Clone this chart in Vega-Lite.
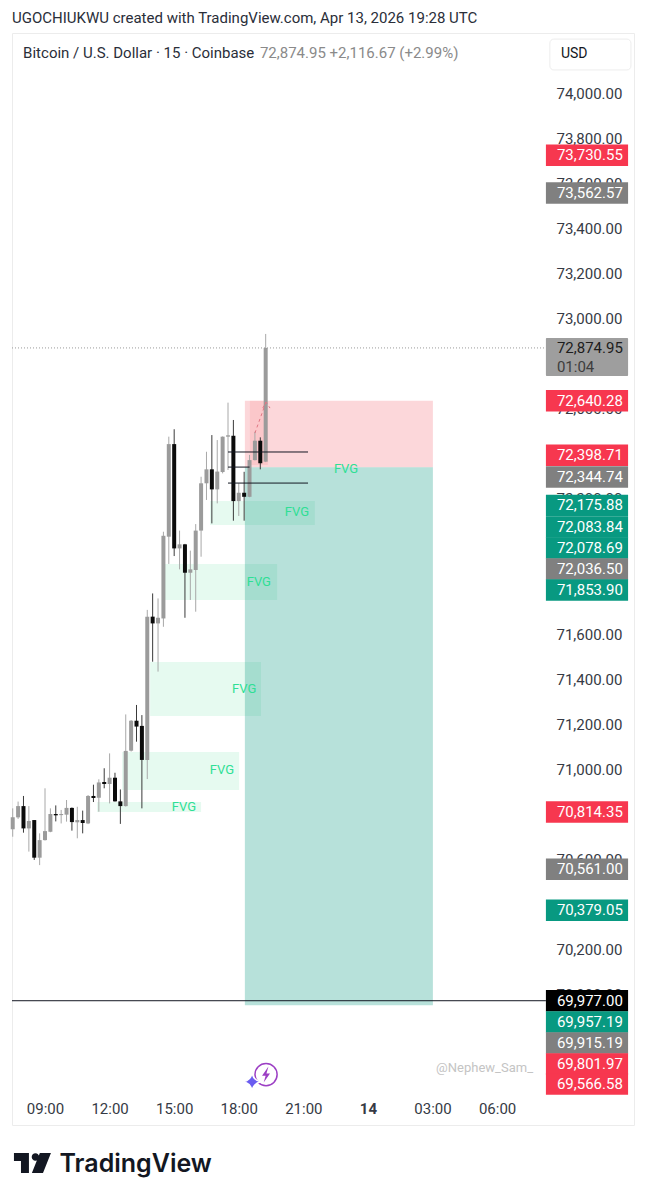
{
"$schema":"https://vega.github.io/schema/vega-lite/v6.json",
"width":622,"height":1092,
"autosize":{"type":"none"},
"padding":{"left":12,"top":33,"right":12,"bottom":75},
"background":"white",
"title":{"text":"UGOCHIUKWU created with TradingView.com, Apr 13, 2026 19:28 UTC","anchor":"start","frame":"group","offset":7,"font":"Roboto","fontSize":15,"fontWeight":"normal","color":"#2a2e39"},
"config":{"view":{"stroke":"#ececec","fill":"white"},"font":"Roboto"},
"resolve":{"scale":{"color":"independent"}},
"datasets":{
"candles":[
{"t":"2026-04-13T07:30:00Z","o":70738,"h":70831,"l":70705,"c":70791},
{"t":"2026-04-13T07:45:00Z","o":70791,"h":70861,"l":70784,"c":70841},
{"t":"2026-04-13T08:00:00Z","o":70841,"h":70886,"l":70723,"c":70742},
{"t":"2026-04-13T08:15:00Z","o":70742,"h":70841,"l":70639,"c":70775},
{"t":"2026-04-13T08:30:00Z","o":70779,"h":70779,"l":70602,"c":70612},
{"t":"2026-04-13T08:45:00Z","o":70612,"h":70720,"l":70579,"c":70690},
{"t":"2026-04-13T09:00:00Z","o":70690,"h":70920,"l":70688,"c":70730},
{"t":"2026-04-13T09:15:00Z","o":70727,"h":70831,"l":70725,"c":70806},
{"t":"2026-04-13T09:30:00Z","o":70806,"h":70844,"l":70773,"c":70800},
{"t":"2026-04-13T09:45:00Z","o":70801,"h":70824,"l":70764,"c":70806},
{"t":"2026-04-13T10:00:00Z","o":70803,"h":70868,"l":70772,"c":70833},
{"t":"2026-04-13T10:15:00Z","o":70833,"h":70835,"l":70732,"c":70770},
{"t":"2026-04-13T10:30:00Z","o":70769,"h":70838,"l":70698,"c":70779},
{"t":"2026-04-13T10:45:00Z","o":70779,"h":70821,"l":70720,"c":70766},
{"t":"2026-04-13T11:00:00Z","o":70764,"h":70890,"l":70761,"c":70886},
{"t":"2026-04-13T11:15:00Z","o":70886,"h":70936,"l":70859,"c":70877},
{"t":"2026-04-13T11:30:00Z","o":70878,"h":70960,"l":70816,"c":70946},
{"t":"2026-04-13T11:45:00Z","o":70948,"h":71009,"l":70920,"c":70939},
{"t":"2026-04-13T12:00:00Z","o":70939,"h":71075,"l":70853,"c":70967},
{"t":"2026-04-13T12:15:00Z","o":70967,"h":70989,"l":70861,"c":70862},
{"t":"2026-04-13T12:30:00Z","o":70862,"h":70915,"l":70762,"c":70841},
{"t":"2026-04-13T12:45:00Z","o":70841,"h":71248,"l":70839,"c":71086},
{"t":"2026-04-13T13:00:00Z","o":71087,"h":71223,"l":71083,"c":71220},
{"t":"2026-04-13T13:15:00Z","o":71220,"h":71290,"l":71127,"c":71194},
{"t":"2026-04-13T13:30:00Z","o":71197,"h":71245,"l":70831,"c":71046},
{"t":"2026-04-13T13:45:00Z","o":71046,"h":71712,"l":70961,"c":71682},
{"t":"2026-04-13T14:00:00Z","o":71682,"h":71785,"l":71482,"c":71652},
{"t":"2026-04-13T14:15:00Z","o":71652,"h":71763,"l":71438,"c":71677},
{"t":"2026-04-13T14:30:00Z","o":71674,"h":72059,"l":71637,"c":72041},
{"t":"2026-04-13T14:45:00Z","o":72037,"h":72481,"l":71916,"c":72448},
{"t":"2026-04-13T15:00:00Z","o":72448,"h":72514,"l":71951,"c":71985},
{"t":"2026-04-13T15:15:00Z","o":71985,"h":72064,"l":71892,"c":72003},
{"t":"2026-04-13T15:30:00Z","o":72003,"h":72005,"l":71677,"c":71877},
{"t":"2026-04-13T15:45:00Z","o":71877,"h":71975,"l":71756,"c":71892},
{"t":"2026-04-13T16:00:00Z","o":71889,"h":72093,"l":71704,"c":72064},
{"t":"2026-04-13T16:15:00Z","o":72064,"h":72303,"l":71948,"c":72274},
{"t":"2026-04-13T16:30:00Z","o":72274,"h":72414,"l":72200,"c":72336},
{"t":"2026-04-13T16:45:00Z","o":72336,"h":72488,"l":72096,"c":72247},
{"t":"2026-04-13T17:00:00Z","o":72247,"h":72466,"l":72185,"c":72326},
{"t":"2026-04-13T17:15:00Z","o":72324,"h":72482,"l":72318,"c":72481},
{"t":"2026-04-13T17:30:00Z","o":72481,"h":72632,"l":72333,"c":72487},
{"t":"2026-04-13T17:45:00Z","o":72485,"h":72555,"l":72108,"c":72195},
{"t":"2026-04-13T18:00:00Z","o":72195,"h":72274,"l":72129,"c":72232},
{"t":"2026-04-13T18:15:00Z","o":72232,"h":72325,"l":72108,"c":72214},
{"t":"2026-04-13T18:30:00Z","o":72214,"h":72400,"l":72212,"c":72377},
{"t":"2026-04-13T18:45:00Z","o":72377,"h":72503,"l":72375,"c":72463},
{"t":"2026-04-13T19:00:00Z","o":72463,"h":72478,"l":72336,"c":72363},
{"t":"2026-04-13T19:15:00Z","o":72370,"h":72937,"l":72368,"c":72874.95}
],
"fvg":[
{"t":"2026-04-13T11:25:00Z","t2":"2026-04-13T16:15:00Z","p":70859,"p2":70815},
{"t":"2026-04-13T12:35:00Z","t2":"2026-04-13T18:01:00Z","p":71081,"p2":70912},
{"t":"2026-04-13T13:53:00Z","t2":"2026-04-13T19:02:00Z","p":71481,"p2":71241},
{"t":"2026-04-13T14:34:00Z","t2":"2026-04-13T19:47:00Z","p":71916,"p2":71756},
{"t":"2026-04-13T16:40:00Z","t2":"2026-04-13T21:32:00Z","p":72195,"p2":72089}
],
"fvgText":[
{"t":"2026-04-13T15:27:00Z","p":70837,"label":"FVG"},
{"t":"2026-04-13T17:13:00Z","p":71001,"label":"FVG"},
{"t":"2026-04-13T18:15:00Z","p":71361,"label":"FVG"},
{"t":"2026-04-13T18:56:00Z","p":71836,"label":"FVG"},
{"t":"2026-04-13T20:42:00Z","p":72147,"label":"FVG"},
{"t":"2026-04-13T22:59:00Z","p":72337,"label":"FVG"}
],
"zones":[
{"t":"2026-04-13T18:17:00Z","t2":"2026-04-14T03:01:00Z","p":72640.28,"p2":72344.74,"zone":"stop"},
{"t":"2026-04-13T18:17:00Z","t2":"2026-04-14T03:01:00Z","p":72344.74,"p2":69957.19,"zone":"target"}
],
"band":[{"t":"2026-04-13T18:31:00Z","t2":"2026-04-13T19:21:00Z","p":72640,"p2":72355}],
"levels":[
{"t":"2026-04-13T17:30:00Z","t2":"2026-04-13T21:13:00Z","p":72413},
{"t":"2026-04-13T17:30:00Z","t2":"2026-04-13T18:30:00Z","p":72346},
{"t":"2026-04-13T17:30:00Z","t2":"2026-04-13T21:13:00Z","p":72275},
{"t":"2026-04-13T07:28:00Z","t2":"2026-04-14T08:16:00Z","p":69977}
],
"last":[{"t":"2026-04-13T07:28:00Z","t2":"2026-04-14T08:16:00Z","p":72874.95}],
"arrow":[
{"t":"2026-04-13T18:45:00Z","p":72497,"g":"shaft"},
{"t":"2026-04-13T19:16:00Z","p":72635,"g":"shaft"},
{"t":"2026-04-13T19:07:00Z","p":72608,"g":"head"},
{"t":"2026-04-13T19:16:00Z","p":72635,"g":"head"},
{"t":"2026-04-13T19:27:00Z","p":72608,"g":"head"}
],
"tags":[
{"t":"2026-04-14T08:16:00Z","t2":"2026-04-14T12:05:00Z","p":73730.55,"kind":"red","label":"73,730.55"},
{"t":"2026-04-14T08:16:00Z","t2":"2026-04-14T12:05:00Z","p":73562.57,"kind":"grey","label":"73,562.57"},
{"t":"2026-04-14T08:16:00Z","t2":"2026-04-14T12:05:00Z","p":72640.28,"kind":"red","label":"72,640.28"},
{"t":"2026-04-14T08:16:00Z","t2":"2026-04-14T12:05:00Z","p":72398.71,"kind":"red","label":"72,398.71"},
{"t":"2026-04-14T08:16:00Z","t2":"2026-04-14T12:05:00Z","p":72302,"kind":"grey","label":"72,344.74"},
{"t":"2026-04-14T08:16:00Z","t2":"2026-04-14T12:05:00Z","p":72175.88,"kind":"green","label":"72,175.88"},
{"t":"2026-04-14T08:16:00Z","t2":"2026-04-14T12:05:00Z","p":72080,"kind":"green","label":"72,083.84"},
{"t":"2026-04-14T08:16:00Z","t2":"2026-04-14T12:05:00Z","p":71987,"kind":"green","label":"72,078.69"},
{"t":"2026-04-14T08:16:00Z","t2":"2026-04-14T12:05:00Z","p":71893,"kind":"grey","label":"72,036.50"},
{"t":"2026-04-14T08:16:00Z","t2":"2026-04-14T12:05:00Z","p":71800,"kind":"green","label":"71,853.90"},
{"t":"2026-04-14T08:16:00Z","t2":"2026-04-14T12:05:00Z","p":70814.35,"kind":"red","label":"70,814.35"},
{"t":"2026-04-14T08:16:00Z","t2":"2026-04-14T12:05:00Z","p":70561,"kind":"grey","label":"70,561.00"},
{"t":"2026-04-14T08:16:00Z","t2":"2026-04-14T12:05:00Z","p":70379.05,"kind":"green","label":"70,379.05"},
{"t":"2026-04-14T08:16:00Z","t2":"2026-04-14T12:05:00Z","p":69977,"kind":"black","label":"69,977.00"},
{"t":"2026-04-14T08:16:00Z","t2":"2026-04-14T12:05:00Z","p":69883,"kind":"green","label":"69,957.19"},
{"t":"2026-04-14T08:16:00Z","t2":"2026-04-14T12:05:00Z","p":69789,"kind":"grey","label":"69,915.19"},
{"t":"2026-04-14T08:16:00Z","t2":"2026-04-14T12:05:00Z","p":69696,"kind":"red","label":"69,801.97"},
{"t":"2026-04-14T08:16:00Z","t2":"2026-04-14T12:05:00Z","p":69607,"kind":"red","label":"69,566.58"}
],
"lastTag":[{"t":"2026-04-14T08:16:00Z","t2":"2026-04-14T12:05:00Z","p":72919,"p2":72750}],
"lastText":[
{"t":"2026-04-14T08:16:00Z","p":72874.95,"label":"72,874.95","row":"price"},
{"t":"2026-04-14T08:16:00Z","p":72790,"label":"01:04","row":"timer"}
],
"usdBox":[{"t":"2026-04-14T08:27:00Z","t2":"2026-04-14T12:13:00Z","p":74246,"p2":74109}]
},
"data":{"name":"candles"},
"encoding":{
"x":{"field":"t","type":"temporal","title":"TradingView",
"scale":{"type":"utc","padding":0,"domain":["2026-04-13T07:28:00Z","2026-04-14T12:21:30Z"]},
"axis":{"orient":"bottom","offset":-24,"domain":false,"ticks":false,"grid":false,"labelPadding":0,"labelFont":"Roboto","labelFontSize":15,"labelColor":"#363a45","labelFlush":false,"labelOverlap":false,
"values":[1776070800000,1776081600000,1776092400000,1776103200000,1776114000000,1776124800000,1776135600000,1776146400000],
"labelExpr":"utchours(datum.value)==0 ? utcFormat(datum.value,'%-d') : utcFormat(datum.value,'%H:%M')",
"labelFontWeight":{"condition":{"test":"utchours(datum.value)==0","value":"bold"},"value":"normal"},
"titleX":47,"titleY":62,"titleAlign":"left","titleBaseline":"middle","titleFont":"Inter","titleFontSize":25,"titleFontWeight":600,"titleColor":"#131722"}},
"y":{"field":"p","type":"quantitative","title":null,
"scale":{"domain":[69425.3,74273],"nice":false,"zero":false},
"axis":{"orient":"right","offset":-78,"domain":false,"ticks":false,"grid":false,"labelPadding":0,"labelOffset":-1,"labelFont":"Roboto","labelFontSize":15,"labelColor":"#363a45","labelAlign":"left","labelOverlap":false,"labelBound":false,"format":",.2f",
"values":[70000,70200,70600,71000,71200,71400,71600,72200,72600,73000,73200,73400,73600,73800,74000]}}
},
"layer":[
{"data":{"name":"fvg"},"mark":{"type":"rect","color":"#e6faf0"},"encoding":{"x2":{"field":"t2"},"y2":{"field":"p2"}}},
{"data":{"name":"zones"},"mark":{"type":"rect"},"encoding":{"x2":{"field":"t2"},"y2":{"field":"p2"},
"color":{"field":"zone","type":"nominal","legend":null,"scale":{"domain":["stop","target"],"range":["#f23645","#089981"]}},
"opacity":{"field":"zone","type":"nominal","legend":null,"scale":{"domain":["stop","target"],"range":[0.2,0.29]}}}},
{"data":{"name":"band"},"mark":{"type":"rect","color":"#f23645","opacity":0.1},"encoding":{"x2":{"field":"t2"},"y2":{"field":"p2"}}},
{"data":{"name":"fvgText"},"mark":{"type":"text","color":"#2fdf95","font":"Roboto","fontSize":13},"encoding":{"text":{"field":"label"}}},
{"data":{"name":"last"},"mark":{"type":"rule","color":"#9a9a9a","strokeWidth":1,"strokeDash":[1,2]},"encoding":{"x2":{"field":"t2"}}},
{"mark":{"type":"rule","strokeWidth":1},"encoding":{
"y":{"field":"l","type":"quantitative","title":null,"scale":{"domain":[69425.3,74273],"nice":false,"zero":false}},"y2":{"field":"h"},
"color":{"condition":{"test":"datum.c>=datum.o","value":"#a8a8a8"},"value":"#3a3a3a"}}},
{"mark":{"type":"bar","size":4,"stroke":null},"encoding":{
"y":{"field":"o","type":"quantitative","title":null,"scale":{"domain":[69425.3,74273],"nice":false,"zero":false}},"y2":{"field":"c"},
"color":{"condition":{"test":"datum.c>=datum.o","value":"#9b9b9b"},"value":"#0b0b0b"}}},
{"data":{"name":"levels"},"mark":{"type":"rule","color":"#131722","strokeWidth":1},"encoding":{"x2":{"field":"t2"}}},
{"data":{"name":"arrow"},"mark":{"type":"line","color":"#df7683","strokeWidth":1,"strokeDash":[3,3]},"encoding":{"detail":{"field":"g"}}},
{"data":{"name":"tags"},"mark":{"type":"rect","height":21.5},"encoding":{"x2":{"field":"t2"},
"color":{"field":"kind","type":"nominal","legend":null,"scale":{"domain":["red","grey","green","black"],"range":["#f7374f","#808080","#089981","#000000"]}}}},
{"data":{"name":"lastTag"},"mark":{"type":"rect","color":"#9e9e9e","cornerRadius":1},"encoding":{"x2":{"field":"t2"},"y2":{"field":"p2"}}},
{"data":{"name":"tags"},"mark":{"type":"text","align":"left","dx":11,"color":"#ffffff","font":"Roboto","fontSize":15},"encoding":{"text":{"field":"label"}}},
{"data":{"name":"lastText"},"mark":{"type":"text","align":"left","dx":11,"font":"Roboto","fontSize":15},"encoding":{"text":{"field":"label"},
"color":{"field":"row","type":"nominal","legend":null,"scale":{"domain":["price","timer"],"range":["#1c1c1c","#3d3d3d"]}}}},
{"data":{"values":[{"t":"2026-04-13T07:59:00Z","p":74184,"label":"Bitcoin / U.S. Dollar · 15 · Coinbase"}]},"mark":{"type":"text","align":"left","color":"#2a2e39","font":"Roboto","fontSize":15},"encoding":{"text":{"field":"label"}}},
{"data":{"values":[{"t":"2026-04-13T18:59:00Z","p":74184,"label":"72,874.95  +2,116.67 (+2.99%)"}]},"mark":{"type":"text","align":"left","color":"#8a8a8a","font":"Roboto","fontSize":15},"encoding":{"text":{"field":"label"}}},
{"data":{"name":"usdBox"},"mark":{"type":"rect","fill":"white","stroke":"#ededed","cornerRadius":4},"encoding":{"x2":{"field":"t2"},"y2":{"field":"p2"}}},
{"data":{"values":[{"t":"2026-04-14T08:58:00Z","p":74178,"label":"USD"}]},"mark":{"type":"text","align":"left","color":"#131722","font":"Roboto","fontSize":14},"encoding":{"text":{"field":"label"}}},
{"data":{"values":[{"t":"2026-04-14T03:10:00Z","p":69678,"label":"@Nephew_Sam_"}]},"mark":{"type":"text","align":"left","color":"#c4c4c4","font":"Roboto","fontSize":13},"encoding":{"text":{"field":"label"}}},
{"data":{"values":[{"t":"2026-04-13T08:25:00Z","p":69257}]},"mark":{"type":"point","filled":true,"opacity":1,"color":"#131722","size":1369,"clip":false,"shape":"M-1 -.54L-.19 -.54L-.19 .54L-.62 .54L-.62 -.11L-1 -.11Z M-.04 -.32A.2 .2 0 1 1 .36 -.32A.2 .2 0 1 1 -.04 -.32Z M.4 -.54L1 -.54L.57 .54L-.03 .54Z"},"encoding":{}},
{"data":{"values":[{"t":"2026-04-13T19:16:00Z","p":69649}]},"mark":{"type":"point","filled":false,"opacity":1,"color":"#9c3fc4","strokeWidth":1.5,"size":491,"shape":"circle"},"encoding":{}},
{"data":{"values":[{"t":"2026-04-13T19:16:00Z","p":69649}]},"mark":{"type":"point","filled":true,"opacity":1,"color":"#9c3fc4","size":256,"shape":"M.3 -1L-.5 .15L-.05 .15L-.3 1L.5 -.15L.05 -.15Z"},"encoding":{}},
{"data":{"values":[{"t":"2026-04-13T18:37:00Z","p":69617}]},"mark":{"type":"point","filled":true,"opacity":1,"fill":"#6a5cf0","stroke":"white","strokeWidth":1.5,"size":324,"shape":"M0 -1Q.15 -.15 1 0Q.15 .15 0 1Q-.15 .15 -1 0Q-.15 -.15 0 -1Z"},"encoding":{}}
]
}
